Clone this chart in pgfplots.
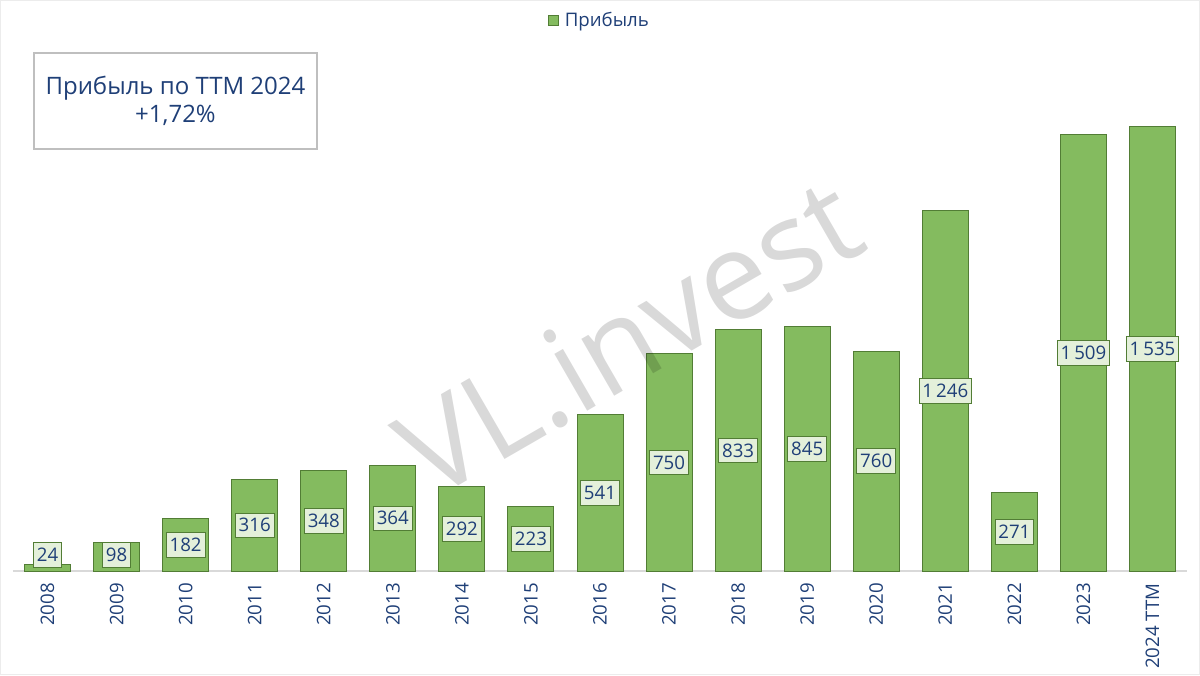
\documentclass[border=0pt]{standalone}
\usepackage{pgfplots}
\pgfplotsset{compat=1.18}
\usepackage{pgfplotstable}
\usepackage{fontspec}
\setmainfont{Open Sans}
\definecolor{barfill}{HTML}{84BB5F}
\definecolor{barline}{HTML}{527D35}
\definecolor{lblfill}{HTML}{E4F0DA}
\definecolor{txt}{HTML}{1F3F77}

\pgfplotstableread{
x y ly
0 24 55
1 98 55
2 182 91
3 316 158
4 348 174
5 364 182
6 292 146
7 223 111.5
8 541 270.5
9 750 375
10 833 416.5
11 845 422.5
12 760 380
13 1246 623
14 271 135.5
15 1509 754.5
16 1535 767.5
}\data

\begin{document}
\begin{tikzpicture}
\useasboundingbox (0,0) rectangle (900pt,506.25pt);
\draw[gray!15] (0.4pt,0.4pt) rectangle (899.6pt,505.85pt);
\begin{axis}[
  at={(9.75pt,78pt)}, anchor=south west,
  scale only axis, width=880.5pt, height=390.75pt,
  xmin=-0.5, xmax=16.5, ymin=0, ymax=1800,
  clip=false,
  hide y axis,
  axis x line*=bottom,
  x axis line style={draw=black!15, line width=0.8pt, -},
  xtick={0,...,16},
  xticklabels={2008,2009,2010,2011,2012,2013,2014,2015,2016,2017,2018,2019,2020,2021,2022,2023,2024 TTM},
  xtick style={draw=none},
  xticklabel style={rotate=90, anchor=east, inner sep=0pt, font=\fontsize{14}{16}\selectfont, text=txt},
  xticklabel shift=9pt,
  legend style={at={(axis description cs:0.5,1)}, anchor=center, yshift=22.5pt, draw=none, fill=none,
    font=\fontsize{14}{16}\selectfont, text=txt, /tikz/every odd column/.append style={column sep=2pt}},
  legend image code/.code={\draw[#1] (0pt,-3.75pt) rectangle (7.5pt,3.75pt);},
]
\addplot[ybar, bar width=34.5pt, fill=barfill, draw=barline, line width=0.7pt] table[x=x,y=y]{\data};
\addlegendentry{Прибыль}
\addplot[draw=none, mark=none, forget plot,
  point meta=\thisrow{y},
  nodes near coords={\pgfmathprintnumber[fixed, precision=0, 1000 sep={\,}, assume math mode=true]{\pgfplotspointmeta}},
  every node near coord/.append style={anchor=center, fill=lblfill, draw=barline, line width=0.6pt,
    text=txt, font=\fontsize{14}{16}\selectfont, inner xsep=2.5pt, inner ysep=0pt, minimum height=18.5pt},
] table[x=x,y=ly]{\data};
\end{axis}
\draw[black!25, line width=0.8pt] (25.5pt,394.5pt) rectangle (237.75pt,466.5pt);
\node[text=txt, font=\fontsize{18}{21}\selectfont] at (131.6pt,440.25pt) {Прибыль по TTM 2024};
\node[text=txt, font=\fontsize{18}{21}\selectfont] at (131.6pt,420pt) {+1,72\%};
\node[rotate=30, text=black, text opacity=0.15, font=\fontsize{92}{96}\selectfont] at (472pt,254pt) {VL.invest};
\end{tikzpicture}
\end{document}
